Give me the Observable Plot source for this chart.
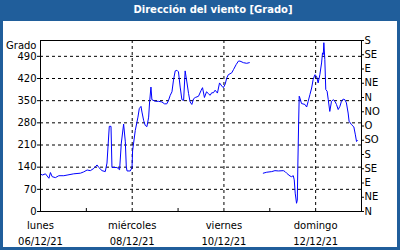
<!DOCTYPE html>
<html><head><meta charset="utf-8">
<script src="https://cdn.jsdelivr.net/npm/d3@7"></script>
<script src="https://cdn.jsdelivr.net/npm/@observablehq/plot@0.6"></script>
<style>
body{margin:0;background:#fff;}
#frame{position:relative;width:400px;height:250px;background:#205e9b;overflow:hidden;font-family:"DejaVu Sans",sans-serif;}
#title{position:absolute;left:13px;top:0;width:400px;height:20px;line-height:20px;color:#fff;font-weight:bold;font-size:10px;text-align:center;}
#panel{position:absolute;left:3px;top:21px;width:394px;height:226px;background:#fff;}
#chart{position:absolute;left:0;top:0;}
</style></head>
<body><div id="frame"><div id="title">Dirección del viento [Grado]</div><div id="panel"></div><div id="chart"></div></div>
<script>
// hours since 06/12/21 00:00
const hours = [0,0.9,2.6,3.5,4.4,5.2,6.1,7.8,9.6,12.2,13.9,17.4,20.9,22.6,24.4,26.1,27.9,29.6,30.5,32.2,33.9,34.8,36.0,36.9,37.4,38.3,40.0,41.4,42.3,43.5,44.4,44.9,45.3,47.0,47.9,48.2,49.6,51.0,51.7,52.6,53.1,54.0,54.8,55.7,56.6,57.1,57.8,58.3,60.1,61.8,63.5,64.9,66.1,67.0,67.9,68.8,69.6,70.5,71.4,72.2,73.1,74.0,74.9,75.7,76.6,77.5,78.3,79.2,80.1,81.0,82.7,84.1,84.8,85.8,86.9,87.9,88.8,89.6,90.5,91.4,92.6,93.7,94.9,95.7,96.6,97.5,98.3,100.1,101.0,102.4,103.6,104.4,106.2,107.9,109.3,
  112,
  116.6,118.4,121.0,122.7,124.5,127.1,128.0,128.8,130.6,131.4,132.3,132.8,133.3,134.0,134.4,134.7,135.1,135.4,135.8,136.6,138.4,139.3,140.1,141.0,141.9,142.7,143.6,144.5,145.3,146.2,147.1,147.6,148.0,148.3,148.8,149.3,150.0,150.6,151.4,152.3,153.2,154.1,154.9,155.8,156.7,157.5,158.4,159.3,160.1,161.0,161.5,162.8,164.0,164.8,165.4,165.9];
const degrees = [119,115,119,112,105,123,110,107,113,113,115,119,121,125,131,129,136,147,139,129,126,153,269,269,139,139,139,132,216,276,220,141,128,128,139,192,256,298,325,332,314,287,272,268,298,346,393,353,348,348,346,340,340,351,367,378,415,444,446,441,393,353,351,444,409,372,346,338,356,360,364,383,391,360,378,372,367,375,375,383,374,406,396,391,401,422,432,438,448,464,475,475,470,468,470,
  null,
  121,124,126,129,128,129,126,121,112,110,113,100,58,26,36,150,280,364,358,341,338,330,348,369,390,417,432,427,406,432,469,501,496,533,480,385,380,353,316,348,353,348,338,322,332,348,355,353,343,311,285,274,267,242,221,224];

const leftTicks = [0,70,140,210,280,350,420,490];
const gridValues = [70,140,210,280,350,420,490];
const rightTicks = [0,45,90,135,180,225,270,315,360,405,450,495,540];
const rightLabels = ["N","NE","E","SE","S","SO","O","NO","N","NE","E","SE","S"];
const labelDays = [0,48,96,144];
const dayNames = ["lunes","miércoles","viernes","domingo"];
const dateLabels = ["06/12/21","08/12/21","10/12/21","12/12/21"];
const majorDays = [48,96,144];
const minorDays = [24,72,120];

const data = hours.map((h,i)=>({h, v: degrees[i]}));

const chart = Plot.plot({
  width: 400, height: 250,
  marginLeft: 40, marginRight: 39, marginTop: 40, marginBottom: 39,
  style: {background: "transparent", fontFamily: "'DejaVu Sans', sans-serif", fontSize: "10px", color: "#000"},
  x: {domain: [0, 168], label: null},
  y: {domain: [0, 540], label: null},
  marks: [
    Plot.ruleY(gridValues, {stroke: "#000", strokeDasharray: "3,3"}),
    Plot.ruleX(majorDays, {stroke: "#000", strokeDasharray: "3,3"}),
    Plot.ruleX(minorDays, {stroke: "#000", insetTop: 168}),
    Plot.line(data, {x: "h", y: "v", stroke: "#0000ff", strokeWidth: 1}),
    Plot.frame({stroke: "#000"}),
    Plot.axisY({anchor: "left", ticks: leftTicks, tickSize: 3, tickPadding: 1, label: null}),
    Plot.axisY({anchor: "right", ticks: rightTicks, tickSize: 2, tickPadding: 1, label: null,
      tickFormat: d => rightLabels[rightTicks.indexOf(d)]}),
    Plot.axisX({ticks: labelDays, tickSize: 0, tickPadding: 10, label: null,
      tickFormat: d => dayNames[labelDays.indexOf(d)]}),
    Plot.axisX({ticks: labelDays, tickSize: 0, tickPadding: 26, label: null,
      tickFormat: d => dateLabels[labelDays.indexOf(d)]}),
    Plot.text(["Grado"], {frameAnchor: "top-left", dx: -4, dy: 5, lineAnchor: "middle", textAnchor: "end", fill: "#000"})
  ]
});
document.getElementById("chart").appendChild(chart);
</script>
</body></html>
